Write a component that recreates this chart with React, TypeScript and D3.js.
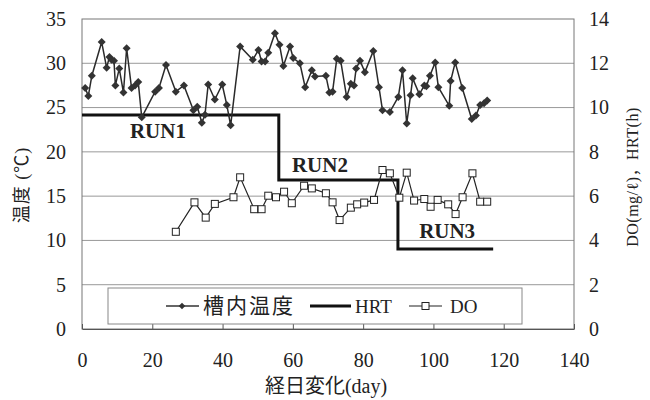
import { useEffect, useRef } from 'react';
import * as d3 from 'd3';

// 槽内温度 (left axis, ℃)
const tempDays = [0.9, 1.8, 2.8, 5.6, 7.0, 7.8, 8.4, 9.1, 9.5, 10.6, 11.8, 12.7, 14.1, 15.1, 16.0, 17.0, 20.8, 21.9, 23.9, 26.7, 29.0, 31.7, 32.8, 34.1, 35.0, 35.9, 37.8, 39.9, 41.2, 42.3, 45.0, 48.6, 50.2, 51.1, 52.1, 53.0, 54.9, 56.2, 57.3, 59.2, 60.1, 62.0, 63.5, 65.4, 66.3, 69.4, 70.4, 71.3, 72.5, 73.6, 75.3, 76.5, 77.4, 78.0, 79.1, 80.5, 82.9, 84.5, 85.5, 87.6, 90.0, 91.2, 92.4, 93.5, 94.1, 96.0, 97.4, 98.0, 99.0, 100.5, 101.4, 104.5, 104.9, 106.2, 108.2, 110.9, 112.1, 113.3, 114.4, 115.3];
const tempValues = [27.2, 26.3, 28.6, 32.4, 29.5, 30.7, 30.4, 30.3, 27.5, 29.4, 26.7, 31.7, 27.2, 27.5, 27.9, 23.9, 26.8, 27.2, 29.8, 26.8, 27.5, 24.7, 25.1, 23.3, 24.2, 27.6, 25.9, 27.6, 25.3, 23.0, 31.9, 30.4, 31.5, 30.2, 30.2, 31.2, 33.4, 32.1, 29.7, 31.9, 30.6, 30.0, 27.3, 29.2, 28.5, 28.6, 26.7, 26.8, 30.5, 30.3, 26.2, 27.7, 27.5, 29.4, 30.3, 29.0, 31.4, 27.3, 24.7, 24.5, 26.2, 29.2, 23.2, 26.4, 28.3, 26.5, 27.5, 27.4, 28.6, 30.1, 27.3, 25.2, 28.0, 30.1, 27.2, 23.7, 24.1, 25.3, 25.5, 25.8];

// DO (right axis, mg/ℓ)
const doDays = [26.7, 32.0, 35.2, 37.8, 43.1, 45.0, 49.0, 51.1, 53.0, 55.2, 57.5, 59.7, 63.2, 65.4, 69.4, 71.3, 73.3, 76.5, 78.3, 80.3, 83.1, 85.5, 87.6, 90.3, 92.4, 94.5, 97.4, 99.2, 101.2, 104.2, 106.3, 108.3, 111.1, 113.3, 115.3];
const doValues = [4.39, 5.72, 5.03, 5.65, 5.95, 6.85, 5.41, 5.41, 6.02, 5.95, 6.2, 5.68, 6.47, 6.35, 6.13, 5.72, 4.92, 5.48, 5.63, 5.71, 5.83, 7.18, 7.03, 5.93, 7.06, 5.8, 5.87, 5.52, 5.83, 5.63, 5.19, 5.95, 7.03, 5.75, 5.75];

// HRT (right axis, h) - stepped
const hrtDays = [0, 56, 56, 89.9, 89.9, 117];
const hrtValues = [9.67, 9.67, 6.73, 6.73, 3.61, 3.61];

const xTicks = [0, 20, 40, 60, 80, 100, 120, 140];
const leftTicks = [0, 5, 10, 15, 20, 25, 30, 35];
const rightTicks = [0, 2, 4, 6, 8, 10, 12, 14];

const runLabels = ['RUN1', 'RUN2', 'RUN3'];
const runDays = [21.6, 67.7, 103.9];
const runTemps = [21.6, 17.7, 10.3];

const legendLabels = ['槽内温度', 'HRT', 'DO'];

const SERIF = "'Liberation Serif', 'Noto Sans CJK JP', serif";

export default function App() {
  const svgRef = useRef<SVGSVGElement>(null);
  const width = 650;
  const height = 400;
  const margin = { top: 19, right: 76, bottom: 71, left: 82 };
  const innerW = width - margin.left - margin.right;
  const innerH = height - margin.top - margin.bottom;

  useEffect(() => {
    if (!svgRef.current) return;
    const svg = d3.select(svgRef.current);
    svg.selectAll('*').remove();
    svg.attr('width', width).attr('height', height);

    const x = d3.scaleLinear().domain([0, 140]).range([0, innerW]);
    const yL = d3.scaleLinear().domain([0, 35]).range([innerH, 0]);
    const yR = d3.scaleLinear().domain([0, 14]).range([innerH, 0]);

    const g = svg.append('g').attr('transform', `translate(${margin.left},${margin.top})`);

    // grid
    g.append('g')
      .selectAll('line')
      .data(leftTicks.slice(1, -1))
      .join('line')
      .attr('x1', 0).attr('x2', innerW)
      .attr('y1', (d) => yL(d)).attr('y2', (d) => yL(d))
      .attr('stroke', '#999').attr('stroke-width', 1);

    // frame
    g.append('rect')
      .attr('width', innerW).attr('height', innerH)
      .attr('fill', 'none').attr('stroke', '#777').attr('stroke-width', 1);

    // x axis
    g.append('g')
      .attr('transform', `translate(0,${innerH})`)
      .call(d3.axisBottom(x).tickValues(xTicks).tickSizeInner(-5).tickSizeOuter(0).tickPadding(24))
      .call((a) => {
        a.select('.domain').attr('stroke', '#555');
        a.selectAll('line').attr('stroke', '#555');
        a.selectAll('text').attr('fill', '#222').attr('font-family', SERIF).attr('font-size', 20);
      });

    // left axis
    g.append('g')
      .call(d3.axisLeft(yL).tickValues(leftTicks).tickSize(0).tickPadding(16))
      .call((a) => {
        a.select('.domain').remove();
        a.selectAll('text').attr('fill', '#222').attr('font-family', SERIF).attr('font-size', 20);
      });

    // right axis
    g.append('g')
      .attr('transform', `translate(${innerW},0)`)
      .call(d3.axisRight(yR).tickValues(rightTicks).tickSize(0).tickPadding(15))
      .call((a) => {
        a.select('.domain').remove();
        a.selectAll('text').attr('fill', '#222').attr('font-family', SERIF).attr('font-size', 20);
      });

    // HRT
    const hrtLine = d3.line<number>().x((d, i) => x(hrtDays[i])).y((d) => yR(d));
    g.append('path')
      .attr('d', hrtLine(hrtValues))
      .attr('fill', 'none').attr('stroke', '#111').attr('stroke-width', 3);

    // temperature
    const tempLine = d3.line<number>().x((d, i) => x(tempDays[i])).y((d) => yL(d));
    g.append('path')
      .attr('d', tempLine(tempValues))
      .attr('fill', 'none').attr('stroke', '#2a2a2a').attr('stroke-width', 1.5);
    const diamond = d3.symbol().type(d3.symbolSquare).size(32);
    g.append('g')
      .selectAll('path')
      .data(tempValues)
      .join('path')
      .attr('d', diamond)
      .attr('transform', (d, i) => `translate(${x(tempDays[i])},${yL(d)}) rotate(45)`)
      .attr('fill', '#333');

    // DO
    const doLine = d3.line<number>().x((d, i) => x(doDays[i])).y((d) => yR(d));
    g.append('path')
      .attr('d', doLine(doValues))
      .attr('fill', 'none').attr('stroke', '#222').attr('stroke-width', 1.2);
    g.append('g')
      .selectAll('rect')
      .data(doValues)
      .join('rect')
      .attr('x', (d, i) => x(doDays[i]) - 3.5)
      .attr('y', (d) => yR(d) - 3.5)
      .attr('width', 7).attr('height', 7)
      .attr('fill', '#fff').attr('stroke', '#222').attr('stroke-width', 1);

    // RUN labels
    g.append('g')
      .selectAll('text')
      .data(runLabels)
      .join('text')
      .attr('x', (d, i) => x(runDays[i]))
      .attr('y', (d, i) => yL(runTemps[i]))
      .attr('text-anchor', 'middle')
      .attr('font-family', SERIF).attr('font-weight', 'bold').attr('font-size', 21)
      .attr('fill', '#222')
      .text((d) => d);

    // legend
    const lg = g.append('g').attr('transform', `translate(26,${innerH - 41})`);
    lg.append('rect')
      .attr('width', 414).attr('height', 36)
      .attr('fill', '#fff').attr('stroke', '#888').attr('stroke-width', 1);
    const ly = 18;
    // 槽内温度
    lg.append('line').attr('x1', 58).attr('x2', 91).attr('y1', ly).attr('y2', ly).attr('stroke', '#333').attr('stroke-width', 1.3);
    lg.append('path').attr('d', d3.symbol().type(d3.symbolSquare).size(22)()).attr('transform', `translate(74,${ly}) rotate(45)`).attr('fill', '#333');
    lg.append('text').attr('x', 95).attr('y', ly + 7).attr('font-family', SERIF).attr('font-size', 21).attr('letter-spacing', 2).attr('fill', '#222').text(legendLabels[0]);
    // HRT
    lg.append('line').attr('x1', 202).attr('x2', 243).attr('y1', ly).attr('y2', ly).attr('stroke', '#111').attr('stroke-width', 3);
    lg.append('text').attr('x', 247).attr('y', ly + 7).attr('font-family', SERIF).attr('font-size', 19).attr('fill', '#222').text(legendLabels[1]);
    // DO
    lg.append('line').attr('x1', 301).attr('x2', 334).attr('y1', ly).attr('y2', ly).attr('stroke', '#222').attr('stroke-width', 1.2);
    lg.append('rect').attr('x', 314).attr('y', ly - 3.5).attr('width', 7).attr('height', 7).attr('fill', '#fff').attr('stroke', '#222');
    lg.append('text').attr('x', 342).attr('y', ly + 7).attr('font-family', SERIF).attr('font-size', 19).attr('fill', '#222').text(legendLabels[2]);

    // axis titles
    svg.append('text')
      .attr('x', margin.left + innerW / 2 - 2).attr('y', 393)
      .attr('text-anchor', 'middle')
      .attr('font-family', SERIF).attr('font-size', 20).attr('fill', '#222')
      .text('経日変化(day)');
    svg.append('text')
      .attr('transform', `translate(28,${margin.top + 166}) rotate(-90)`)
      .attr('text-anchor', 'middle')
      .attr('font-family', SERIF).attr('font-size', 18).attr('letter-spacing', 1).attr('fill', '#222')
      .text('温度 (℃)');
    svg.append('text')
      .attr('transform', `translate(638,${margin.top + 158}) rotate(-90)`)
      .attr('text-anchor', 'middle')
      .attr('font-family', SERIF).attr('font-size', 16).attr('letter-spacing', 0.5).attr('fill', '#222')
      .text('DO(mg/ℓ)，HRT(h)');
  }, []);

  return (
    <div style={{ position: 'absolute', left: 0, top: 0 }}>
      <svg ref={svgRef} style={{ display: 'block', background: '#fff' }} />
    </div>
  );
}
